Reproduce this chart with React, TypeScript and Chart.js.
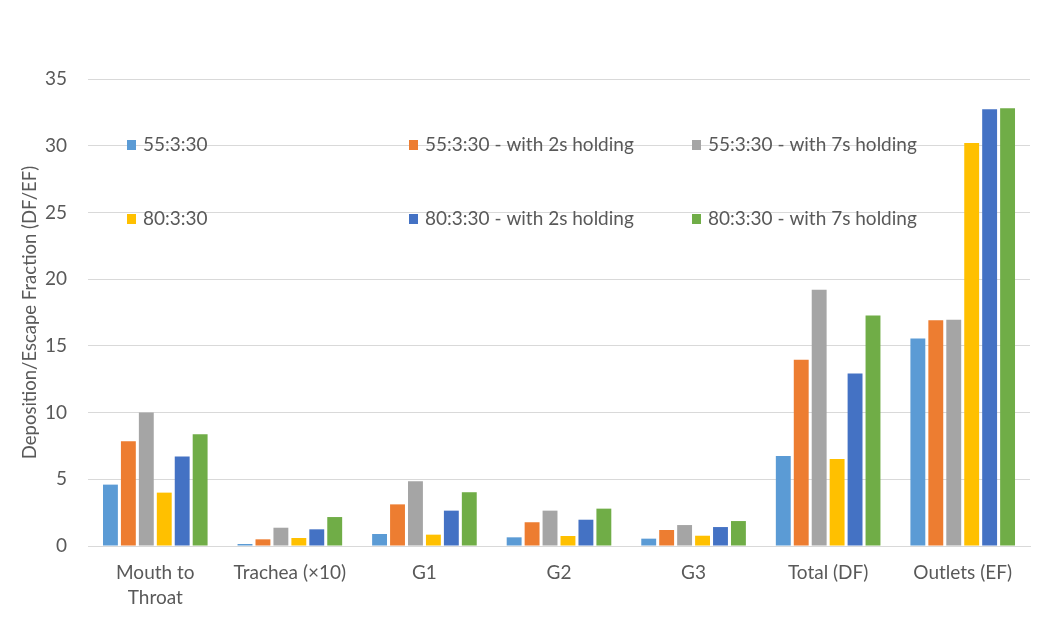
import React, { useEffect, useRef } from "react";
import { Chart, registerables } from "chart.js";

Chart.register(...registerables);

const categories: (string | string[])[] = [
  ["Mouth to", "Throat"],
  "Trachea (×10)",
  "G1",
  "G2",
  "G3",
  "Total (DF)",
  "Outlets (EF)",
];

const seriesLabels = [
  "55:3:30",
  "55:3:30 - with 2s holding",
  "55:3:30 - with 7s holding",
  "80:3:30",
  "80:3:30 - with 2s holding",
  "80:3:30 - with 7s holding",
];

const s55 = [4.6, 0.15, 0.9, 0.65, 0.55, 6.75, 15.55];
const s55h2 = [7.85, 0.5, 3.12, 1.78, 1.2, 13.95, 16.92];
const s55h7 = [10.0, 1.37, 4.85, 2.65, 1.57, 19.2, 16.95];
const s80 = [4.0, 0.6, 0.85, 0.75, 0.77, 6.52, 30.2];
const s80h2 = [6.7, 1.25, 2.65, 1.97, 1.42, 12.92, 32.74];
const s80h7 = [8.37, 2.17, 4.03, 2.8, 1.87, 17.27, 32.8];

const seriesValues = [s55, s55h2, s55h7, s80, s80h2, s80h7];
const seriesColors = ["#5B9BD5", "#ED7D31", "#A5A5A5", "#FFC000", "#4472C4", "#70AD47"];

const yTitle = "Deposition/Escape Fraction (DF/EF)";
const FONT = "Lato, 'Open Sans', sans-serif";
const TEXT = "#595959";

const legendPlugin = {
  id: "insideLegend",
  afterDatasetsDraw(chart: any) {
    const ctx = chart.ctx;
    const cols = [127, 409, 692];
    const rows = [145, 219];
    ctx.save();
    ctx.font = `19px ${FONT}`;
    ctx.textBaseline = "middle";
    ctx.textAlign = "left";
    seriesLabels.forEach((lab, i) => {
      const x = cols[i % 3];
      const y = rows[Math.floor(i / 3)];
      ctx.fillStyle = seriesColors[i];
      ctx.fillRect(x, y - 5, 9, 10);
      ctx.fillStyle = TEXT;
      ctx.fillText(lab, x + 16, y);
    });
    ctx.restore();
  },
};

export default function App() {
  const ref = useRef<HTMLCanvasElement | null>(null);
  useEffect(() => {
    if (!ref.current) return;
    const chart = new Chart(ref.current, {
      type: "bar",
      data: {
        labels: categories,
        datasets: seriesValues.map((vals, i) => ({
          label: seriesLabels[i],
          data: vals,
          backgroundColor: seriesColors[i],
          borderWidth: 0,
          categoryPercentage: 0.8,
          barPercentage: 0.83,
        })),
      },
      options: {
        animation: false,
        responsive: false,
        maintainAspectRatio: false,
        layout: { padding: { top: 79, right: 20, bottom: 0, left: 0 } },
        plugins: {
          legend: { display: false },
          tooltip: { enabled: false },
        },
        scales: {
          x: {
            grid: { display: false, drawTicks: false },
            border: { display: true, color: "#D9D9D9", width: 1 },
            ticks: {
              color: TEXT,
              font: { family: FONT, size: 19, lineHeight: 1.3 },
              padding: 15,
              maxRotation: 0,
              autoSkip: false,
            },
            afterFit(scale: any) {
              scale.height = 619 - 546;
            },
          },
          y: {
            min: 0,
            max: 35,
            ticks: {
              stepSize: 5,
              color: TEXT,
              font: { family: FONT, size: 19 },
              padding: 21,
            },
            grid: { color: "#D9D9D9", lineWidth: 1, drawTicks: false },
            border: { display: false },
            title: {
              display: true,
              text: yTitle,
              color: TEXT,
              font: { family: FONT, size: 18.5, weight: "normal" },
              padding: { top: 19, bottom: 0 },
            },
            afterFit(scale: any) {
              scale.width = 88;
            },
          },
        },
      },
      plugins: [legendPlugin],
    });
    return () => chart.destroy();
  }, []);
  return (
    <div style={{ position: "fixed", left: 0, top: 0, width: 1050, height: 619, background: "#fff" }}>
      <canvas ref={ref} width={1050} height={619} style={{ display: "block" }} />
    </div>
  );
}
